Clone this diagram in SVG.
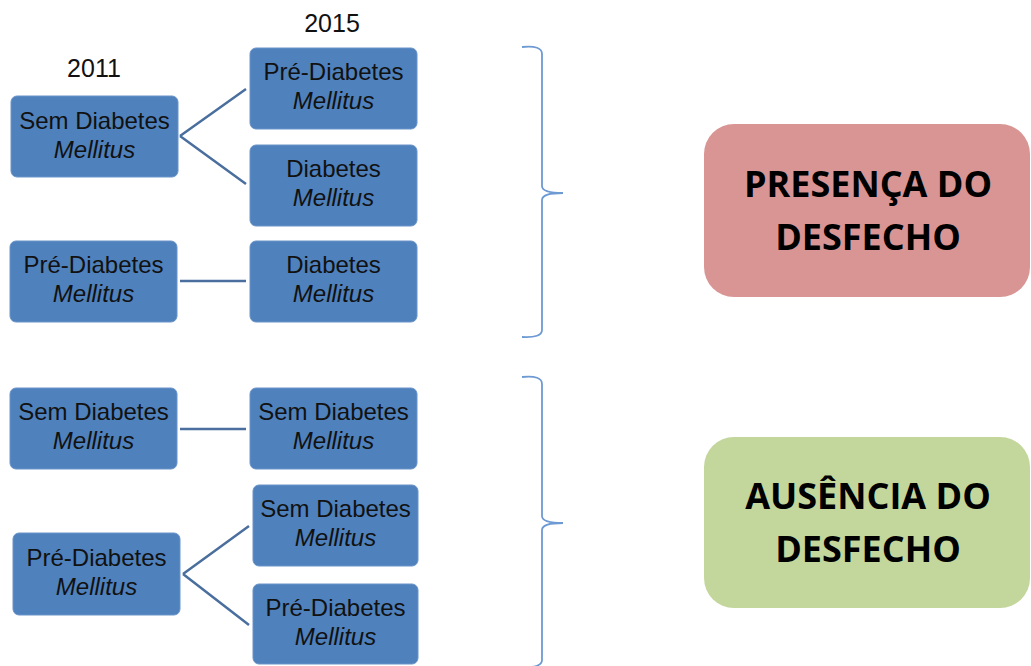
<svg xmlns="http://www.w3.org/2000/svg" width="1031" height="666" viewBox="0 0 1031 666">
<style>
.box{fill:#4F81BD;stroke:#6A93C9;stroke-width:1}
.t{font-family:"Liberation Sans",Arial,sans-serif;font-size:24px;fill:#111;text-anchor:middle}
.i{font-style:italic}
.yr{font-family:"Liberation Sans",Arial,sans-serif;font-size:25px;fill:#111;text-anchor:middle}
.big{font-family:"Open Sans","Liberation Sans",sans-serif;font-size:36px;font-weight:bold;fill:#000;text-anchor:middle}
.con{stroke:#4A6F9E;stroke-width:2.5;fill:none}
.brace{stroke:#6E9AD3;stroke-width:1.8;fill:none}
</style>
<rect width="1031" height="666" fill="#fff"/>
<text class="yr" x="332" y="32">2015</text>
<text class="yr" x="94" y="77">2011</text>
<g id="connectors">
<path class="con" d="M180,136 L246,89 M180,136 L246,184"/>
<path class="con" d="M180,281 L246,281"/>
<path class="con" d="M180,429 L246,429"/>
<path class="con" d="M183,574 L249,526 M183,574 L249,625"/>
<path class="brace" d="M522,47 Q542,45 542,54 L542,186 Q542,193 563,193 Q542,193 542,200 L542,330 Q542,338 522,337"/>
<path class="brace" d="M522,377 Q542,375 542,384 L542,516 Q542,523 563,523 Q542,523 542,530 L542,660 Q542,668 522,667"/>
</g>
<g id="nA"><rect class="box" x="11" y="96" width="167" height="81" rx="6"/><text class="t" x="94.5" y="129">Sem Diabetes</text><text class="t i" x="94.5" y="158">Mellitus</text></g>
<g id="nB"><rect class="box" x="250" y="48" width="167" height="81" rx="6"/><text class="t" x="333.5" y="80">Pré-Diabetes</text><text class="t i" x="333.5" y="109">Mellitus</text></g>
<g id="nC"><rect class="box" x="250" y="145" width="167" height="81" rx="6"/><text class="t" x="333.5" y="177">Diabetes</text><text class="t i" x="333.5" y="206">Mellitus</text></g>
<g id="nD"><rect class="box" x="10" y="241" width="167" height="81" rx="6"/><text class="t" x="93.5" y="273">Pré-Diabetes</text><text class="t i" x="93.5" y="302">Mellitus</text></g>
<g id="nE"><rect class="box" x="250" y="241" width="167" height="81" rx="6"/><text class="t" x="333.5" y="273">Diabetes</text><text class="t i" x="333.5" y="302">Mellitus</text></g>
<g id="nF"><rect class="box" x="10" y="388" width="167" height="81" rx="6"/><text class="t" x="93.5" y="420">Sem Diabetes</text><text class="t i" x="93.5" y="449">Mellitus</text></g>
<g id="nG"><rect class="box" x="250" y="388" width="167" height="81" rx="6"/><text class="t" x="333.5" y="420">Sem Diabetes</text><text class="t i" x="333.5" y="449">Mellitus</text></g>
<g id="nH"><rect class="box" x="253" y="485" width="165" height="81" rx="6"/><text class="t" x="335.5" y="517">Sem Diabetes</text><text class="t i" x="335.5" y="546">Mellitus</text></g>
<g id="nI"><rect class="box" x="253" y="584" width="165" height="80" rx="6"/><text class="t" x="335.5" y="616">Pré-Diabetes</text><text class="t i" x="335.5" y="645">Mellitus</text></g>
<g id="nJ"><rect class="box" x="13" y="533" width="167" height="82" rx="6"/><text class="t" x="96.5" y="566">Pré-Diabetes</text><text class="t i" x="96.5" y="595">Mellitus</text></g>
<g id="nPres"><rect x="704" y="124" width="326" height="173" rx="30" fill="#D99594"/><text class="big" x="868" y="197">PRESENÇA DO</text><text class="big" x="868" y="250">DESFECHO</text></g>
<g id="nAus"><rect x="704" y="437" width="326" height="171" rx="30" fill="#C3D69B"/><text class="big" x="868" y="509">AUSÊNCIA DO</text><text class="big" x="868" y="562">DESFECHO</text></g>
</svg>
